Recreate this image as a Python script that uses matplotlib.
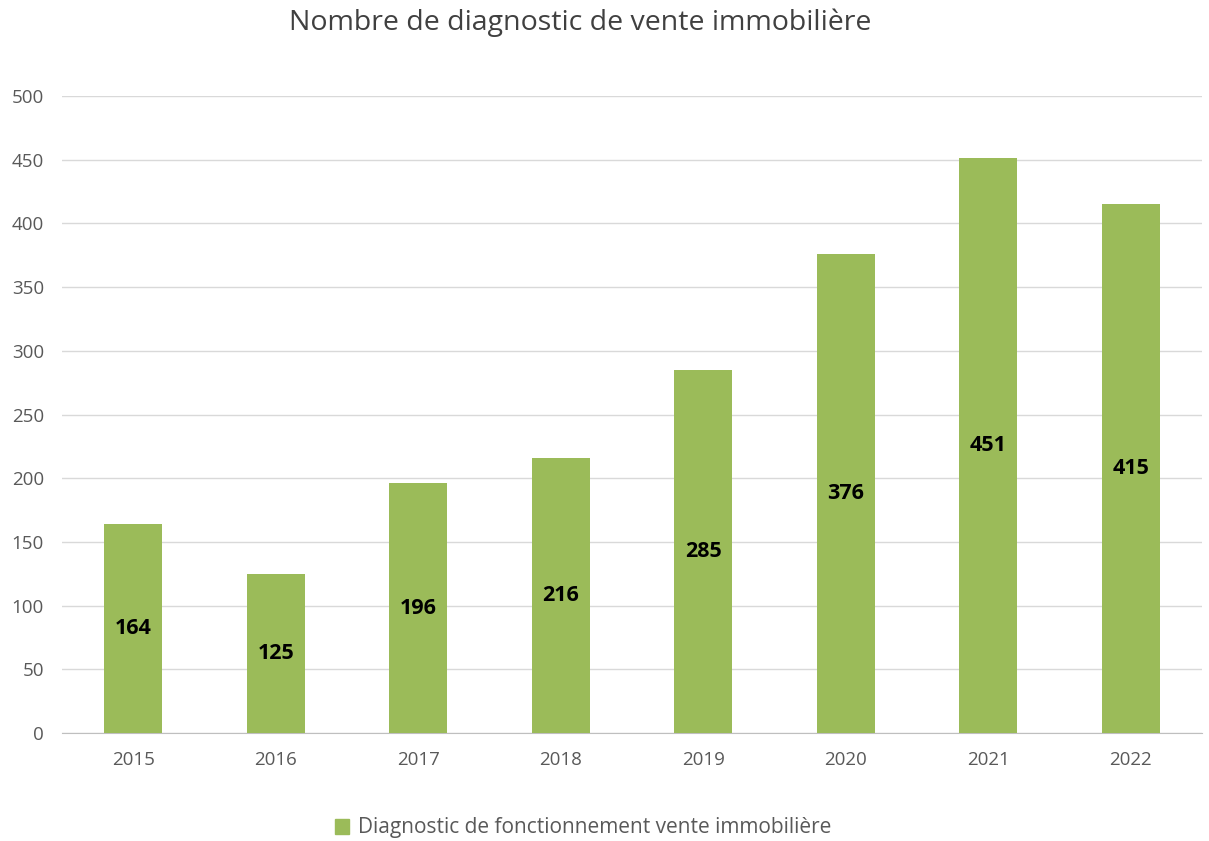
import matplotlib
matplotlib.use("Agg")
import matplotlib.pyplot as plt
from matplotlib.patches import Patch

years = ["2015", "2016", "2017", "2018", "2019", "2020", "2021", "2022"]
values = [164, 125, 196, 216, 285, 376, 451, 415]
series_name = "Diagnostic de fonctionnement vente immobilière"
title = "Nombre de diagnostic de vente immobilière"

plt.rcParams['font.family'] = ['Open Sans', 'DejaVu Sans']
green = "#9BBB59"
gray = "#595959"

fig = plt.figure(figsize=(12.09, 8.41), dpi=100)
ax = fig.add_axes([62/1209, 1 - 733/841, (1202-62)/1209, (733-96)/841])

x = range(len(years))
bars = ax.bar(x, values, width=0.41, color=green, zorder=3)
ax.set_xlim(-0.5, len(years) - 0.5)
ax.set_ylim(0, 500)
ax.set_yticks(range(0, 501, 50))
ax.set_xticks(list(x))
ax.set_xticklabels(years)
ax.grid(axis='y', color="#d9d9d9", linewidth=1, zorder=0)
for s in ['top', 'right', 'left']:
    ax.spines[s].set_visible(False)
ax.spines['bottom'].set_color("#bfbfbf")
ax.tick_params(axis='both', length=0, labelsize=13.5, colors=gray)
ax.tick_params(axis='x', pad=13)
ax.tick_params(axis='y', pad=13)

for b, v in zip(bars, values):
    ax.text(b.get_x() + b.get_width()/2, v/2, str(v), ha='center', va='center',
            fontsize=15.5, fontweight='bold', color='black', zorder=4)

fig.text(580/1209, 1 - 23/841, title, ha='center', va='center', fontsize=20.5, color="#404040")
fig.legend(handles=[Patch(color=green)], labels=[series_name], loc='center',
           bbox_to_anchor=(583/1209, 1 - 828/841), frameon=False, fontsize=15,
           handlelength=0.7, handleheight=0.7, handletextpad=0.4,
           labelcolor=gray)

fig.savefig("out.png", dpi=100)
